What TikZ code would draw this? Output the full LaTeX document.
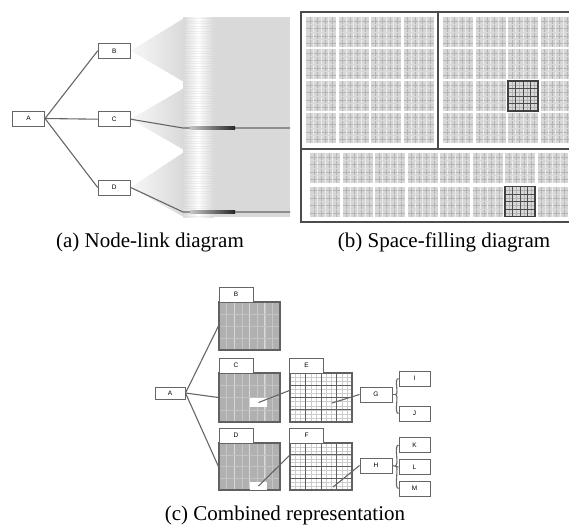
\documentclass[tikz,border=0pt]{standalone}
\usepackage{fontspec}
\setmainfont{Liberation Serif}
\setsansfont{Liberation Sans}
\usetikzlibrary{calc}

\tikzset{
  bx/.style={draw=black!60, line width=1pt, fill=white, inner sep=0pt,
    font=\sffamily\fontsize{6.5}{6.5}\selectfont, minimum height=15pt},
  abox/.style={bx, minimum width=32pt},
  tabbox/.style={bx, minimum width=34pt},
  leaf/.style={bx, minimum width=31pt},
  frameonly/.style={draw=black!62, line width=1.1pt, inner sep=0pt},
  edge/.style={draw=black!60, line width=1.1pt},
  captxt/.style={font=\fontsize{21}{21}\selectfont, anchor=base, inner sep=0pt}
}

% panel (b) light cell: top-left x,y ; size 30
\newcommand\bcell[2]{%
  \fill[gray!32] (#1,#2) rectangle ++(30,30);
  \foreach \k in {1,...,7}{%
    \draw[gray!58, line width=0.3pt] ({#1+\k*3.75},#2) -- ++(0,30);
    \draw[gray!58, line width=0.3pt] (#1,{#2+\k*3.75}) -- ++(30,0);}
  \foreach \k in {1,2,3}{%
    \draw[white!85!gray, line width=0.5pt] ({#1+\k*7.5},#2) -- ++(0,30);
    \draw[white!70!gray, line width=0.4pt] (#1,{#2+\k*7.5}) -- ++(30,0);}
}
% panel (b) dark cell
\newcommand\dcell[2]{%
  \fill[gray!30] (#1,#2) rectangle ++(30,30);
  \foreach \k in {1,...,7}{%
    \draw[gray!60, line width=0.3pt] ({#1+\k*3.75},#2) -- ++(0,30);
    \draw[gray!60, line width=0.3pt] (#1,{#2+\k*3.75}) -- ++(30,0);}
  \foreach \k in {1,2,3}{%
    \draw[black!70, line width=0.8pt] ({#1+\k*7.5},#2) -- ++(0,30);
    \draw[black!70, line width=0.8pt] (#1,{#2+\k*7.5}) -- ++(30,0);}
  \draw[black!75, line width=1.1pt] (#1,#2) rectangle ++(30,30);
}
% panel (c) gray box interior: x1 y1 x2 y2
\newcommand\mygraybox[4]{%
  \fill[gray!62] (#1,#2) rectangle (#3,#4);
  \foreach \i in {1,...,7}
    \draw[gray!45, line width=0.3pt] ({#1+\i*(#3-#1)/8},#2) -- ({#1+\i*(#3-#1)/8},#4);
  \foreach \i in {1,2,3}
    \draw[gray!30, line width=0.6pt] ({#1+\i*(#3-#1)/4},#2) -- ({#1+\i*(#3-#1)/4},#4);
  \foreach \j in {1,2,3}
    \draw[gray!48, line width=0.4pt] (#1,{#2+\j*(#4-#2)/4}) -- (#3,{#2+\j*(#4-#2)/4});
}
% panel (c) grid box interior
\newcommand\mygridbox[4]{%
  \fill[white] (#1,#2) rectangle (#3,#4);
  \foreach \i in {1,...,11}{%
    \draw[gray!40, line width=0.3pt] ({#1+\i*(#3-#1)/12},#2) -- ({#1+\i*(#3-#1)/12},#4);
    \draw[gray!40, line width=0.3pt] (#1,{#2+\i*(#4-#2)/12}) -- (#3,{#2+\i*(#4-#2)/12});}
  \foreach \i in {1,2,3}{%
    \draw[black!62, line width=0.85pt] ({#1+\i*(#3-#1)/4},#2) -- ({#1+\i*(#3-#1)/4},#4);
    \draw[black!62, line width=0.75pt] (#1,{#2+\i*(#4-#2)/4}) -- (#3,{#2+\i*(#4-#2)/4});}
}

\begin{document}
\begin{tikzpicture}[x=1pt,y=-1pt]
\useasboundingbox (0,0) rectangle (569,531);

%%%%%%%%%%%%%%%% panel (a)
\fill[gray!30] (183,17) rectangle (290,217);
\shade[left color=gray!28, right color=white] (183,17) rectangle (198,217);
\shade[left color=white, right color=gray!30] (198,17) rectangle (214,217);
\foreach \yy in {18.5,21,...,216}
  \draw[gray!40, line width=0.2pt, opacity=0.25] (183,\yy) -- (213,\yy);

\node[abox] (aA) at (28.5,118.5) {A};
\node[abox] (aB) at (114.2,50.8) {B};
\node[abox] (aC) at (114.2,119.2) {C};
\node[abox] (aD) at (114.2,187.5) {D};

\shade[left color=gray!6, right color=gray!30] (aB.east) -- (186,17) -- (184,82) -- cycle;
\shade[left color=gray!6, right color=gray!30] (aC.east) -- (184,88) -- (184,150) -- cycle;
\shade[left color=gray!6, right color=gray!30] (aD.east) -- (184,152) -- (184,217) -- cycle;

\coordinate (c1) at (183,128);
\coordinate (c2) at (290,128);
\coordinate (d1) at (183,212);
\coordinate (d2) at (290,212);
\draw[edge, draw=black!60] (aC.east) -- (c1) -- (c2);
\draw[edge, draw=black!60] (aD.east) -- (d1) -- (d2);
\shade[left color=gray!45, right color=black!85] (190,126.3) rectangle (235,129.7);
\shade[left color=gray!45, right color=black!85] (190,210.3) rectangle (235,213.7);

\draw[edge] (aA.east) -- (aB.west);
\draw[edge] (aA.east) -- (aC.west);
\draw[edge] (aA.east) -- (aD.west);
\node[abox] at (aA) {A};
\node[abox] at (aB) {B};
\node[abox] at (aC) {C};
\node[abox] at (aD) {D};

%%%%%%%%%%%%%%%% panel (b)
\begin{scope}
\clip (0,0) rectangle (569,531);
\foreach \i in {0,1,2,3}
  \foreach \j in {0,1,2,3}{
    \bcell{306+\i*32.5}{17+\j*32}
    \bcell{443+\i*32.5}{17+\j*32}
  }
\foreach \i in {0,...,8}
  \foreach \j in {0,1}
    \bcell{310+\i*32.5}{153+\j*33.5}
\dcell{508}{81}
\dcell{505}{186.5}
\draw[black!70, line width=1.8pt] (301,12) rectangle (585,222);
\draw[black!70, line width=1.5pt] (438,12) -- (438,149);
\draw[black!70, line width=1.5pt] (301,149) -- (585,149);
\end{scope}

\node[captxt] (capa) at (150,247) {(a) Node-link diagram};
\node[captxt] (capb) at (444,247) {(b) Space-filling diagram};

%%%%%%%%%%%%%%%% panel (c)
\mygraybox{219}{302}{280}{350}
\mygraybox{219}{373}{280}{422}
\mygraybox{219}{443}{280}{490}
\mygridbox{290}{373}{352}{422}
\mygridbox{290}{443}{352}{490}

\node[frameonly, minimum width=61pt, minimum height=48pt] (Bb) at (249.5,326) {};
\node[frameonly, minimum width=61pt, minimum height=49pt] (Cb) at (249.5,397.5) {};
\node[frameonly, minimum width=61pt, minimum height=47pt] (Db) at (249.5,466.5) {};
\node[frameonly, minimum width=62pt, minimum height=49pt] (Eb) at (321,397.5) {};
\node[frameonly, minimum width=62pt, minimum height=47pt] (Fb) at (321,466.5) {};

\node[fill=white, inner sep=0pt, minimum width=17pt, minimum height=9pt] (Cw) at (258.5,402.5) {};
\node[fill=white, inner sep=0pt, minimum width=17pt, minimum height=8pt] (Dw) at (258.5,486) {};

\node[tabbox] (Bt) at (236,294.5) {B};
\node[tabbox] (Ct) at (236,365.5) {C};
\node[tabbox] (Dt) at (236,435.5) {D};
\node[tabbox] (Et) at (306.5,365.5) {E};
\node[tabbox] (Ft) at (306.5,435.5) {F};

\node[bx, minimum width=30pt, minimum height=12pt] (cA) at (170,393) {A};
\node[abox] (G) at (376,394.5) {G};
\node[abox] (H) at (376,465.5) {H};
\node[leaf] (I) at (414.5,378.5) {I};
\node[leaf] (J) at (414.5,413.5) {J};
\node[leaf] (K) at (414.5,445) {K};
\node[leaf] (L) at (414.5,467) {L};
\node[leaf] (M) at (414.5,488.5) {M};

\coordinate (Ep) at (332,403);
\coordinate (Fp) at (333,487);

\draw[edge] (cA.east) -- (Bb.west);
\draw[edge] (cA.east) -- (Cb.west);
\draw[edge] (cA.east) -- (Db.west);
\draw[edge] (Cw.center) -- ($(Eb.west)+(0,-7)$);
\draw[edge] (Dw.center) -- ($(Fb.west)+(0,-11)$);
\draw[edge] (Ep) -- (G.west);
\draw[edge] (Fp) -- (H.west);

\draw[edge] (G.east) -- ++(3,0) coordinate (gj);
\draw[edge] (gj) .. controls +(4,0) and +(-5,0) .. (I.west);
\draw[edge] (gj) .. controls +(4,0) and +(-5,0) .. (J.west);
\draw[edge] (H.east) -- (L.west);
\coordinate (hj) at ($(H.east)+(3,0)$);
\draw[edge] (hj) .. controls +(4,0) and +(-5,0) .. (K.west);
\draw[edge] (hj) .. controls +(4,0) and +(-5,0) .. (M.west);

\node[captxt] (capc) at (285,520) {(c) Combined representation};
\end{tikzpicture}
\end{document}
